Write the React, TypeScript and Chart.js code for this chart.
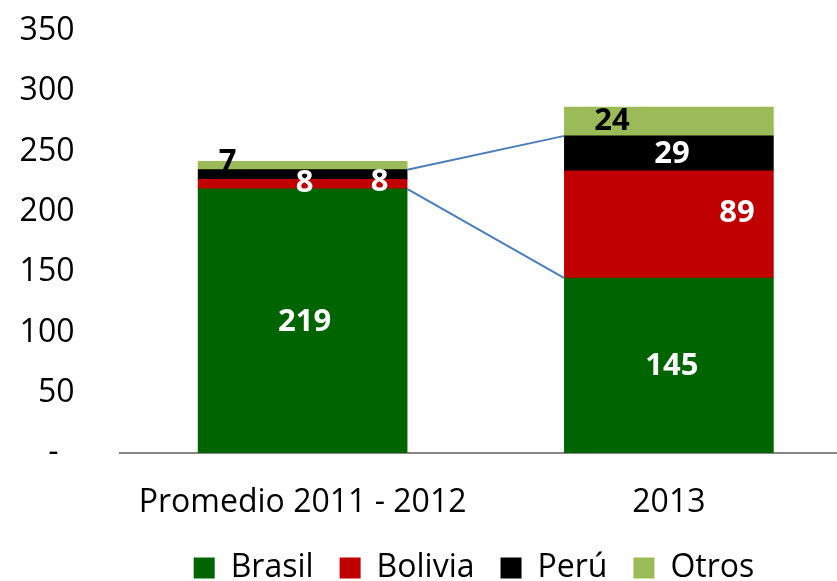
import React, { useEffect, useRef } from "react";
import { Chart, registerables } from "chart.js";

Chart.register(...registerables);

const categories = ["Promedio 2011 - 2012", "2013"];
const seriesNames = ["Brasil", "Bolivia", "Perú", "Otros"];
const brasil = [219, 145];
const bolivia = [8, 89];
const peru = [8, 29];
const otros = [7, 24];
const yMin = 0;
const yMax = 350;
const yStep = 50;
const zeroTickLabel = "-\u2002";

const seriesColors = ["#006400", "#C00000", "#000000", "#9BBB59"];
const labelColors = [
  ["#FFFFFF", "#FFFFFF"],
  ["#FFFFFF", "#FFFFFF"],
  ["#FFFFFF", "#FFFFFF"],
  ["#000000", "#000000"],
];
// manual label offsets (px) relative to segment centre, as placed in the original
const labelOffsets = [
  [[2, 1], [3, 1]],
  [[2, -1], [68, -11]],
  [[77, 8], [3, 1]],
  [[-75, -3], [-57, 0]],
];

const FONT = "'Open Sans', 'Noto Sans', sans-serif";

const overlayPlugin = {
  id: "overlay",
  afterLayout(chart: any) {
    if (chart.legend) {
      chart.legend.left += 48;
      chart.legend.right += 48;
    }
  },
  afterDatasetsDraw(chart: any) {
    const ctx = chart.ctx;
    ctx.save();
    // Excel-style series lines
    ctx.strokeStyle = "#4A7EBB";
    ctx.lineWidth = 2;
    for (const di of [0, 2]) {
      const meta = chart.getDatasetMeta(di);
      const a = meta.data[0] as any;
      const b = meta.data[1] as any;
      ctx.beginPath();
      ctx.moveTo(a.x + a.width / 2, a.y);
      ctx.lineTo(b.x - b.width / 2, b.y);
      ctx.stroke();
    }
    // data labels
    ctx.font = `bold 31px ${FONT}`;
    ctx.textAlign = "center";
    ctx.textBaseline = "middle";
    chart.data.datasets.forEach((ds: any, di: number) => {
      const meta = chart.getDatasetMeta(di);
      meta.data.forEach((el: any, i: number) => {
        const { x, y, base } = el.getProps(["x", "y", "base"], true);
        const cy = (y + base) / 2;
        const [dx, dy] = labelOffsets[di][i];
        ctx.fillStyle = labelColors[di][i];
        ctx.fillText(String(ds.data[i]), x + dx, cy + dy);
      });
    });
    ctx.restore();
  },
};

export default function App() {
  const ref = useRef<HTMLCanvasElement | null>(null);

  useEffect(() => {
    if (!ref.current) return;
    const values = [brasil, bolivia, peru, otros];
    const chart = new Chart(ref.current, {
      type: "bar",
      data: {
        labels: categories,
        datasets: seriesNames.map((name, i) => ({
          label: name,
          data: values[i],
          backgroundColor: seriesColors[i],
          borderWidth: 0,
          barThickness: 209,
        })),
      },
      options: {
        responsive: false,
        animation: false,
        devicePixelRatio: 1,
        layout: { padding: { left: 0, right: 0, top: 31, bottom: 0 } },
        plugins: {
          legend: {
            position: "bottom",
            labels: {
              boxWidth: 21,
              boxHeight: 21,
              padding: 26,
              color: "#000",
              font: { size: 32, family: FONT },
            },
          },
          tooltip: { enabled: false },
        },
        scales: {
          x: {
            stacked: true,
            grid: { display: false },
            border: { display: true, color: "#868686", width: 2 },
            ticks: { color: "#000", padding: 23, font: { size: 32, family: FONT } },
            afterFit: (s: any) => {
              s.height = 73;
            },
          },
          y: {
            stacked: true,
            min: yMin,
            max: yMax,
            grid: { display: false },
            border: { display: false },
            ticks: {
              stepSize: yStep,
              color: "#000",
              padding: 37,
              font: { size: 32, family: FONT },
              callback: (v: any) => (Number(v) === 0 ? zeroTickLabel : String(v)),
            },
            afterFit: (s: any) => {
              s.width = 119.5;
              s.paddingTop = 0;
              s.paddingBottom = 0;
            },
          },
        },
      },
      plugins: [overlayPlugin],
    });
    return () => chart.destroy();
  }, []);

  return (
    <div
      style={{
        position: "absolute",
        left: 0,
        top: 0,
        width: 837,
        height: 581,
        overflow: "hidden",
        background: "#fff",
      }}
    >
      <canvas ref={ref} width={852} height={594} style={{ display: "block" }} />
    </div>
  );
}
